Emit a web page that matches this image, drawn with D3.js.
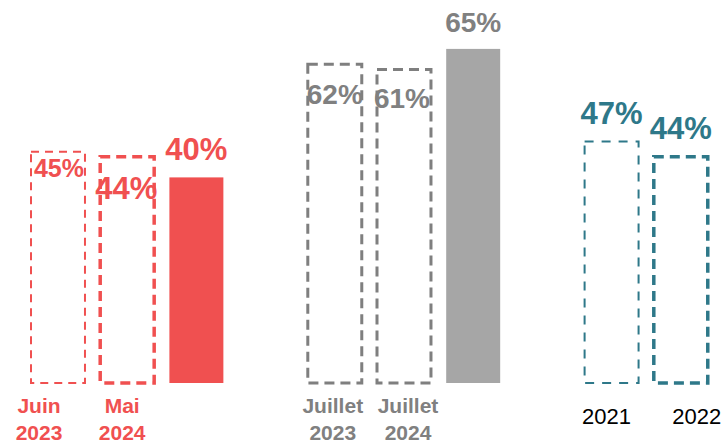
<!DOCTYPE html>
<html><head><meta charset="utf-8">
<script src="https://cdn.jsdelivr.net/npm/d3@7"></script>
<style>body{margin:0;background:#fff}svg{display:block}</style>
</head><body>
<script>
// ---- data ----
const redCategories = [["Juin","2023"],["Mai","2024"],[]];
const redValues = [45, 44, 40];
const grayCategories = [["Juillet","2023"],["Juillet","2024"],[]];
const grayValues = [62, 61, 65];
const tealCategories = [["2021"],["2022"]];
const tealValues = [47, 44];

// ---- styles (kept separate from data) ----
const RED = "#F05050", GRAY_T = "#808080", GRAY_B = "#A6A6A6", TEAL = "#2E7889";
const groups = [
  {key:"r", cats:redCategories, vals:redValues, color:RED, fill:RED, catColor:RED, catBold:true,
   styles:[{kind:"dash",sw:2,dash:"8,6"},{kind:"dash",sw:3.5,dash:"10,6"},{kind:"solid"}],
   lab:[{dy:25,dx:1,fs:25},{dy:42,dx:-1,fs:31},{dy:-17,dx:0,fs:31}],
   cat:[{dx:-19},{dx:-5}]},
  {key:"g", cats:grayCategories, vals:grayValues, color:"#7F7F7F", fill:GRAY_B, labColor:GRAY_T, catColor:GRAY_T, catBold:true,
   styles:[{kind:"dash",sw:3,dash:"10,6"},{kind:"dash",sw:3,dash:"10,6"},{kind:"solid"}],
   lab:[{dy:40,dx:0,fs:28},{dy:39,dx:-2,fs:28},{dy:-17,dx:0,fs:28}],
   cat:[{dx:-2},{dx:4}]},
  {key:"t", cats:tealCategories, vals:tealValues, color:TEAL, fill:TEAL, catColor:"#000", catBold:false,
   styles:[{kind:"dash",sw:2,dash:"9,8"},{kind:"dash",sw:3.5,dash:"10,6"}],
   lab:[{dy:-17,dx:0,fs:31},{dy:-18,dx:0,fs:31}],
   cat:[{dx:-5},{dx:16}]}
];

const W = 725, H = 443;
const svg = d3.select("body").append("svg").attr("width", W).attr("height", H);

// slots: bars plus spacer between groups
const slots = [];
groups.forEach((g, gi) => {
  g.vals.forEach((v, i) => slots.push(g.key + i));
  if (gi < groups.length - 1) slots.push("gap" + gi);
});
const step = 69.2, pad = 0.22;
const x = d3.scaleBand().domain(slots).range([31, 31 + step * (slots.length - pad)])
  .paddingInner(pad).paddingOuter(0);
const y = d3.scaleLinear().domain([0, 100]).range([383, 383 - 514]);

const font = "Arial, 'Liberation Sans', Helvetica, sans-serif";

groups.forEach(g => {
  const gg = svg.append("g");
  g.vals.forEach((v, i) => {
    const st = g.styles[i];
    const x0 = x(g.key + i), bw = x.bandwidth();
    if (st.kind === "solid") {
      gg.append("rect").attr("x", x0).attr("y", y(v)).attr("width", bw).attr("height", y(0) - y(v))
        .attr("fill", g.fill);
    } else {
      gg.append("rect").attr("x", x0).attr("y", y(v))
        .attr("width", bw).attr("height", y(0) - y(v))
        .attr("fill", "none").attr("stroke", g.color).attr("stroke-width", st.sw)
        .attr("stroke-dasharray", st.dash);
    }
    const lb = g.lab[i];
    gg.append("text").attr("x", x0 + bw / 2 + lb.dx).attr("y", y(v) + lb.dy)
      .attr("text-anchor", "middle").attr("font-family", font).attr("font-weight", "bold")
      .attr("font-size", lb.fs).attr("fill", g.labColor || g.color).text(v + "%");
    const lines = g.cats[i];
    if (lines && lines.length) {
      const t = gg.append("text").attr("text-anchor", "middle").attr("font-family", font)
        .attr("font-weight", g.catBold ? "bold" : "normal")
        .attr("font-size", g.catBold ? 21 : 22).attr("fill", g.catColor);
      const cx = x0 + bw / 2 + g.cat[i].dx;
      if (lines.length === 2) {
        t.append("tspan").attr("x", cx).attr("y", 413).text(lines[0]);
        t.append("tspan").attr("x", cx).attr("y", 440).text(lines[1]);
      } else {
        t.append("tspan").attr("x", cx).attr("y", 424).text(lines[0]);
      }
    }
  });
});
</script>
</body></html>
